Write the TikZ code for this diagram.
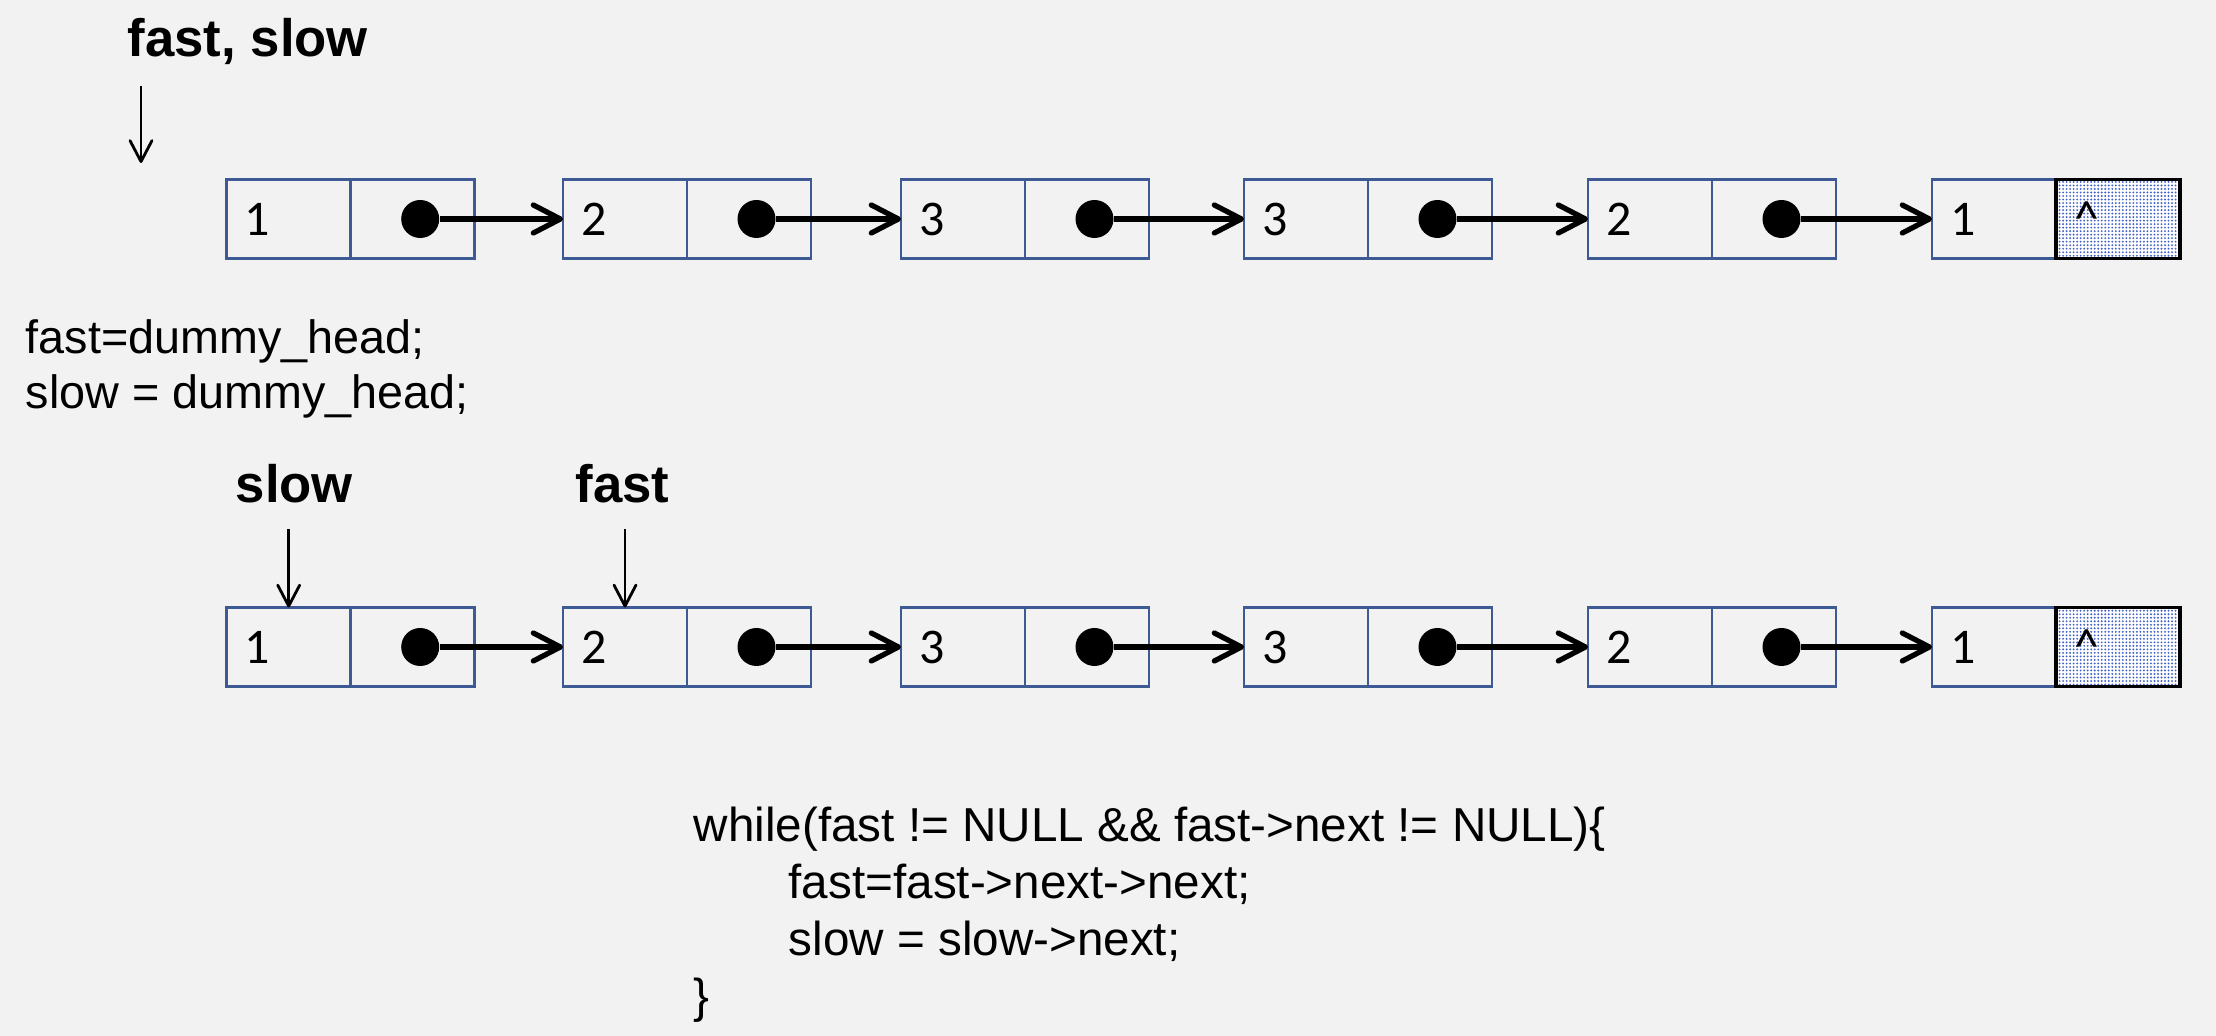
\documentclass[tikz,border=0pt]{standalone}
\usepackage{fontspec}
\setmainfont{Liberation Sans}
\newfontfamily\cellfont{Carlito}
\usepackage{xcolor}
\usepackage{tikz}
\usetikzlibrary{arrows.meta, positioning, patterns}

\definecolor{bggray}{RGB}{242,242,242}
\definecolor{cellblue}{RGB}{62,90,148}
\definecolor{dotblue}{RGB}{66,98,200}

\pgfdeclarepatternformonly{finedots}{\pgfqpoint{-0.5pt}{-0.5pt}}{\pgfqpoint{0.5pt}{0.5pt}}{\pgfqpoint{1pt}{1pt}}{\pgfpathcircle{\pgfpointorigin}{0.3pt}\pgfusepath{fill}}

\begin{document}
\begin{tikzpicture}[
    node distance=0pt,
    cell/.style={rectangle, draw=cellblue, line width=0.75pt, minimum width=1.24cm, minimum height=0.79cm, inner sep=0pt, outer sep=0pt},
    data/.style={cell, text width=0.88cm, inner xsep=0.18cm, align=left, font=\cellfont\fontsize{14.2}{16}\selectfont},
    nullcell/.style={data, draw=black, line width=0.95pt, preaction={fill=white}, pattern=finedots, pattern color=dotblue},
    ptrdot/.style={circle, fill=black, inner sep=0pt, minimum size=0.38cm},
    link/.style={-{Straight Barb[length=0.27cm, width=0.28cm, round]}, line width=1.5pt},
    pointerarrow/.style={-{Straight Barb[length=0.21cm, width=0.22cm, round]}, line width=0.8pt},
    varname/.style={font=\bfseries\fontsize{15}{18}\selectfont, inner sep=0pt, anchor=base west},
    code/.style={font=\fontsize{13.3}{15.4}\selectfont, align=left, inner sep=0pt, anchor=north west}
]
\fill[bggray] (0,0) rectangle (22.16,10.36);
\useasboundingbox (0,0) rectangle (22.16,10.36);

% both pointers on the dummy head
\node[varname] (fastslow) at (1.27,9.795) {fast, slow};
\coordinate (dummy) at (1.41,8.73);
\draw[pointerarrow] ([yshift=0.77cm]dummy) -- (dummy);

% first list
\node[data] (t1) at (2.887,8.17) {1};
\node[cell, right=of t1] (t1p) {};
\node[data] (t2) at (6.25,8.17) {2};
\node[cell, right=of t2] (t2p) {};
\node[data] (t3) at (9.63,8.17) {3};
\node[cell, right=of t3] (t3p) {};
\node[data] (t4) at (13.06,8.17) {3};
\node[cell, right=of t4] (t4p) {};
\node[data] (t5) at (16.50,8.17) {2};
\node[cell, right=of t5] (t5p) {};
\node[data] (t6) at (19.94,8.17) {1};
\node[nullcell, right=of t6] (t6p) {\textasciicircum};

\node[ptrdot] (t1dot) at ([xshift=0.075cm]t1p.center) {};
\node[ptrdot] (t2dot) at ([xshift=0.075cm]t2p.center) {};
\node[ptrdot] (t3dot) at ([xshift=0.075cm]t3p.center) {};
\node[ptrdot] (t4dot) at ([xshift=0.075cm]t4p.center) {};
\node[ptrdot] (t5dot) at ([xshift=0.075cm]t5p.center) {};

\draw[link] (t1dot) -- (t2);
\draw[link] (t2dot) -- (t3);
\draw[link] (t3dot) -- (t4);
\draw[link] (t4dot) -- (t5);
\draw[link] (t5dot) -- (t6);

\node[code] (init) at (0.25,7.166) {fast=dummy\_head;\\slow = dummy\_head;};

% after one step
\node[varname] (slowname) at (2.35,5.33) {slow};
\node[varname] (fastname) at (5.75,5.33) {fast};

\node[data] (b1) at (2.887,3.89) {1};
\node[cell, right=of b1] (b1p) {};
\node[data] (b2) at (6.25,3.89) {2};
\node[cell, right=of b2] (b2p) {};
\node[data] (b3) at (9.63,3.89) {3};
\node[cell, right=of b3] (b3p) {};
\node[data] (b4) at (13.06,3.89) {3};
\node[cell, right=of b4] (b4p) {};
\node[data] (b5) at (16.50,3.89) {2};
\node[cell, right=of b5] (b5p) {};
\node[data] (b6) at (19.94,3.89) {1};
\node[nullcell, right=of b6] (b6p) {\textasciicircum};

\node[ptrdot] (b1dot) at ([xshift=0.075cm]b1p.center) {};
\node[ptrdot] (b2dot) at ([xshift=0.075cm]b2p.center) {};
\node[ptrdot] (b3dot) at ([xshift=0.075cm]b3p.center) {};
\node[ptrdot] (b4dot) at ([xshift=0.075cm]b4p.center) {};
\node[ptrdot] (b5dot) at ([xshift=0.075cm]b5p.center) {};

\draw[link] (b1dot) -- (b2);
\draw[link] (b2dot) -- (b3);
\draw[link] (b3dot) -- (b4);
\draw[link] (b4dot) -- (b5);
\draw[link] (b5dot) -- (b6);

\draw[pointerarrow] ([yshift=0.78cm]b1.north) -- (b1.north);
\draw[pointerarrow] ([yshift=0.78cm]b2.north) -- (b2.north);

\node[code, font=\fontsize{13.55}{16.2}\selectfont] (loop) at (6.93,2.30) {while(fast != NULL \&\& fast->next != NULL)\{\\\hspace*{0.95cm}fast=fast->next->next;\\\hspace*{0.95cm}slow = slow->next;\\\}};
\end{tikzpicture}
\end{document}
